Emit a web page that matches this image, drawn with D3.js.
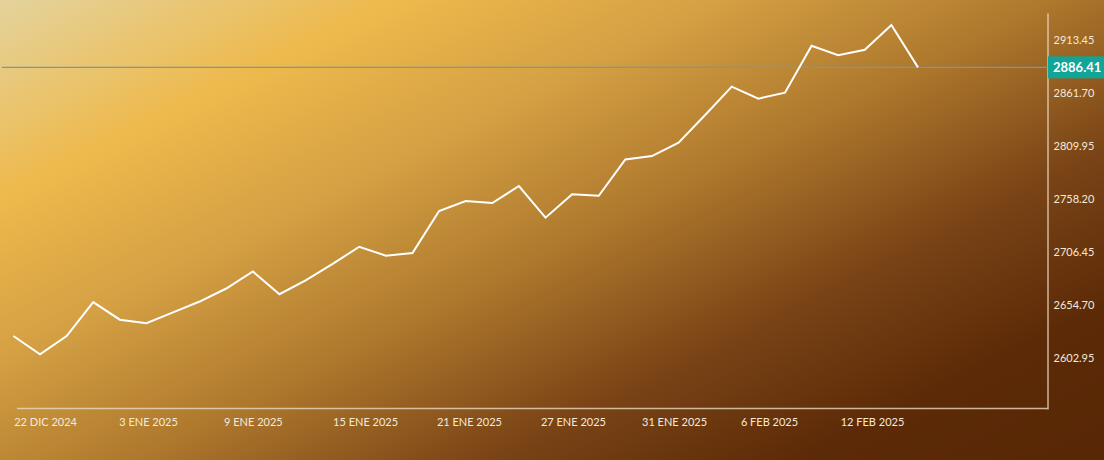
<!DOCTYPE html>
<html>
<head>
<meta charset="utf-8">
<style>
  html, body { margin: 0; padding: 0; background: #7a4416; }
  svg { display: block; }
  text { font-family: Lato, "Noto Sans", sans-serif; }
</style>
</head>
<body>
<script src="https://cdn.jsdelivr.net/npm/d3@7"></script>
<script>
// trading days shown on the chart (first one is at the left edge)
var dates = ["2024-12-27", "2024-12-30", "2024-12-31", "2025-01-02", "2025-01-03",
  "2025-01-06", "2025-01-07", "2025-01-08", "2025-01-09", "2025-01-10",
  "2025-01-13", "2025-01-14", "2025-01-15", "2025-01-16", "2025-01-17",
  "2025-01-20", "2025-01-21", "2025-01-22", "2025-01-23", "2025-01-24",
  "2025-01-27", "2025-01-28", "2025-01-29", "2025-01-30", "2025-01-31",
  "2025-02-03", "2025-02-04", "2025-02-05", "2025-02-06", "2025-02-07",
  "2025-02-10", "2025-02-11", "2025-02-12", "2025-02-13", "2025-02-14"];
// close values
var values = [2624.6, 2606.8, 2624.6, 2657.7, 2640.5,
  2637.0, 2647.6, 2658.2, 2670.9, 2687.5,
  2665.3, 2679.0, 2694.9, 2711.6, 2702.9,
  2705.5, 2746.4, 2756.2, 2754.2, 2770.8,
  2739.9, 2762.7, 2761.3, 2796.6, 2800.0,
  2813.0, 2840.0, 2867.6, 2855.9, 2861.7,
  2907.5, 2898.2, 2903.6, 2927.7, 2886.41];
var lastValue = 2886.41;

var yTicks = [2602.95, 2654.70, 2706.45, 2758.20, 2809.95, 2861.70, 2913.45];
var xTickLabels = ["22 DIC 2024", "3 ENE 2025", "9 ENE 2025", "15 ENE 2025", "21 ENE 2025",
  "27 ENE 2025", "31 ENE 2025", "6 FEB 2025", "12 FEB 2025"];
// where each label sits, in point index units
var xTickAt = [1.19, 5.06, 9.0, 13.22, 17.12, 21.03, 24.83, 28.4, 32.27];

var W = 1104, H = 460;
var axisX = 1047.5, axisY = 408.5, plotLeft = 17;

var svg = d3.select("body").append("svg")
    .attr("width", W)
    .attr("height", H);

// background gradient
var defs = svg.append("defs");
var grad = defs.append("linearGradient")
    .attr("id", "bg")
    .attr("gradientUnits", "userSpaceOnUse")
    .attr("x1", 0).attr("y1", 0)
    .attr("x2", 400).attr("y2", 800);
var stops = [[0, "#e4d39c"], [0.2, "#eeb94c"], [0.36, "#d4a043"], [0.52, "#b07a2e"], [0.7, "#7a4416"], [0.86, "#5c2a07"], [1, "#582705"]];
stops.forEach(function(s) {
  grad.append("stop").attr("offset", s[0]).attr("stop-color", s[1]);
});
svg.append("rect").attr("width", W).attr("height", H).attr("fill", "url(#bg)");

var x = d3.scaleLinear().domain([0, dates.length - 1]).range([13.4, 918]);
var y = d3.scaleLinear().domain([2553.48, 2939.37]).range([409, 13]);

// right axis
var yAxis = svg.append("g")
    .attr("transform", "translate(" + axisX + ",0)")
    .call(d3.axisRight(y).tickValues(yTicks).tickSize(0).tickPadding(6)
      .tickFormat(function(d) { return d.toFixed(2); }));
yAxis.select(".domain").attr("stroke", "#ead9bf").attr("stroke-opacity", 0.8).attr("stroke-width", 1.5);
yAxis.selectAll("text")
    .attr("fill", "#f4eadb")
    .style("font-size", "11px");

// bottom axis
var xAxis = svg.append("g")
    .attr("transform", "translate(0," + axisY + ")")
    .call(d3.axisBottom(x).tickValues(xTickAt).tickSize(0).tickPadding(10)
      .tickFormat(function(d, i) { return xTickLabels[i]; }));
xAxis.select(".domain").remove();
xAxis.selectAll("text")
    .attr("fill", "#f4eadb")
    .style("font-size", "11px");
svg.append("line")
    .attr("x1", plotLeft).attr("x2", axisX)
    .attr("y1", axisY).attr("y2", axisY)
    .attr("stroke", "#ead9bf").attr("stroke-opacity", 0.8).attr("stroke-width", 1.5);

// last price line
svg.append("line")
    .attr("x1", 2).attr("x2", axisX)
    .attr("y1", y(lastValue)).attr("y2", y(lastValue))
    .attr("stroke", "#6a9db4").attr("stroke-width", 1.2);

// series line
var line = d3.line()
    .x(function(d, i) { return x(i); })
    .y(function(d) { return y(d); });
svg.append("path")
    .datum(values)
    .attr("d", line)
    .attr("fill", "none")
    .attr("stroke", "#ffffff")
    .attr("stroke-width", 2)
    .attr("stroke-linejoin", "miter");

// last price label
svg.append("rect")
    .attr("x", axisX + 0.5).attr("y", y(lastValue) - 11)
    .attr("width", W - axisX).attr("height", 22)
    .attr("fill", "#10a596");
svg.append("text")
    .attr("x", axisX + 5.5).attr("y", y(lastValue))
    .attr("dy", "0.36em")
    .attr("fill", "#ffffff")
    .style("font-size", "13px")
    .style("font-weight", "bold")
    .text(lastValue.toFixed(2));
</script>
</body>
</html>
